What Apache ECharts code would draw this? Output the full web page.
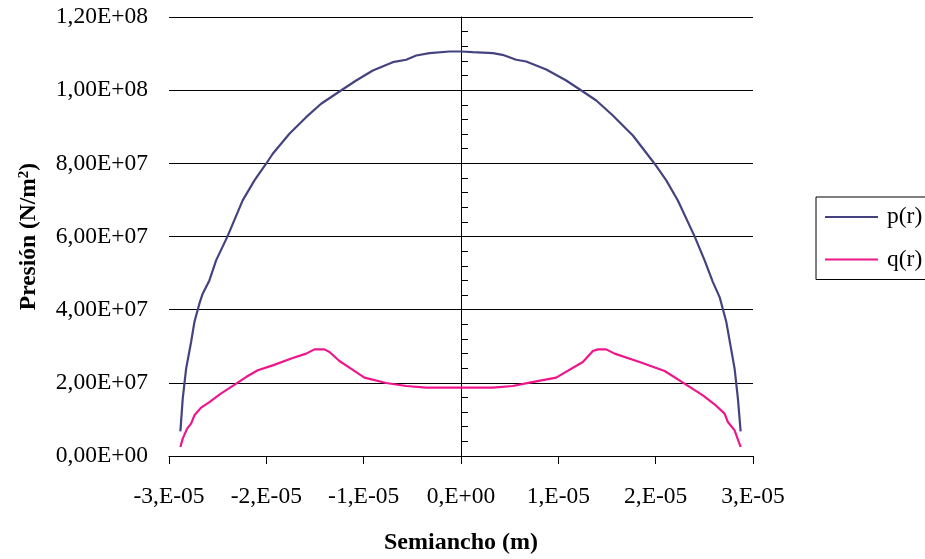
<!DOCTYPE html>
<html>
<head>
<meta charset="utf-8">
<script src="https://cdn.jsdelivr.net/npm/echarts@6/dist/echarts.min.js"></script>
<style>html,body{margin:0;padding:0;background:#fff}#c{width:925px;height:559px}</style>
</head>
<body>
<div id="c"></div>
<script>
// Semiancho r (m) and pressure p(r) (N/m2)
const pR = [-2.883e-5,-2.859e-5,-2.824e-5,-2.773e-5,-2.739e-5,-2.688e-5,-2.654e-5,-2.585e-5,-2.516e-5,-2.399e-5,-2.243e-5,-2.122e-5,-2.002e-5,-1.934e-5,-1.763e-5,-1.591e-5,-1.437e-5,-1.249e-5,-1.077e-5,-0.906e-5,-0.701e-5,-0.563e-5,-0.460e-5,-0.324e-5,-0.118e-5,0.002e-5,0.121e-5,0.327e-5,0.427e-5,0.567e-5,0.670e-5,0.876e-5,1.081e-5,1.252e-5,1.390e-5,1.560e-5,1.766e-5,1.989e-5,2.109e-5,2.228e-5,2.400e-5,2.503e-5,2.588e-5,2.657e-5,2.726e-5,2.811e-5,2.845e-5,2.873e-5];
const pVal = [0.675e7,1.568e7,2.388e7,3.115e7,3.661e7,4.164e7,4.437e7,4.800e7,5.347e7,6.003e7,6.986e7,7.533e7,7.989e7,8.262e7,8.809e7,9.262e7,9.628e7,9.964e7,10.265e7,10.538e7,10.765e7,10.831e7,10.948e7,11.011e7,11.057e7,11.057e7,11.038e7,11.011e7,10.967e7,10.831e7,10.784e7,10.566e7,10.265e7,9.964e7,9.718e7,9.309e7,8.762e7,7.989e7,7.533e7,6.986e7,6.003e7,5.347e7,4.754e7,4.344e7,3.661e7,2.388e7,1.568e7,0.675e7];
// q(r)
const qR = [-2.883e-5,-2.859e-5,-2.814e-5,-2.773e-5,-2.739e-5,-2.670e-5,-2.585e-5,-2.482e-5,-2.310e-5,-2.208e-5,-2.088e-5,-1.934e-5,-1.729e-5,-1.591e-5,-1.506e-5,-1.403e-5,-1.351e-5,-1.249e-5,-1.146e-5,-0.992e-5,-0.769e-5,-0.563e-5,-0.358e-5,0.327e-5,0.532e-5,0.704e-5,0.978e-5,1.252e-5,1.355e-5,1.406e-5,1.492e-5,1.578e-5,1.835e-5,2.092e-5,2.297e-5,2.485e-5,2.605e-5,2.708e-5,2.742e-5,2.811e-5,2.873e-5];
const qVal = [0.246e7,0.475e7,0.749e7,0.885e7,1.112e7,1.322e7,1.475e7,1.678e7,1.978e7,2.158e7,2.342e7,2.478e7,2.678e7,2.798e7,2.915e7,2.915e7,2.842e7,2.596e7,2.415e7,2.142e7,1.995e7,1.913e7,1.869e7,1.869e7,1.913e7,2.005e7,2.142e7,2.568e7,2.869e7,2.915e7,2.915e7,2.798e7,2.568e7,2.322e7,1.978e7,1.658e7,1.413e7,1.158e7,0.929e7,0.702e7,0.246e7];
const seriesNames = ['p(r)', 'q(r)'];
const xMin = -3e-5, xMax = 3e-5, xStep = 1e-5;
const yMin = 0, yMax = 1.2e8, yStep = 2e7;

const FONT = "'Liberation Serif','Times New Roman',serif";
const BLUE = '#45437f', PINK = '#ee168a';
function excelFmt(v, digits) {
  const s = Number(v).toExponential(digits);
  const m = s.split('e');
  let mant = m[0].replace('.', ',');
  if (digits === 0) mant += ',';
  const e = parseInt(m[1], 10);
  const sign = e < 0 ? '-' : '+';
  const ea = Math.abs(e);
  return mant + 'E' + sign + (ea < 10 ? '0' + ea : '' + ea);
}

const chart = echarts.init(document.getElementById('c'));
chart.setOption({
  animation: false,
  backgroundColor: '#fff',
  grid: { left: 169, right: 172, top: 17, bottom: 103, containLabel: false, outerBoundsMode: 'none' },
  legend: {
    orient: 'vertical',
    left: 816, top: 197,
    padding: [8, 30, 8, 9],
    itemGap: 18.5,
    itemWidth: 53,
    itemHeight: 2,
    icon: 'rect',
    borderColor: '#000', borderWidth: 1,
    textStyle: { fontFamily: FONT, fontSize: 23.5, color: '#000', padding: [0, 0, 0, 4] },
    data: seriesNames
  },
  xAxis: {
    type: 'value', min: xMin, max: xMax, interval: xStep,
    name: 'Semiancho (m)', nameLocation: 'middle', nameGap: 75,
    nameTextStyle: { fontFamily: FONT, fontSize: 24, fontWeight: 'bold', color: '#000' },
    axisLine: { onZero: false, lineStyle: { color: '#000', width: 1 } },
    axisTick: { show: true, length: 8, lineStyle: { color: '#000' } },
    axisLabel: { margin: 29, fontFamily: FONT, fontSize: 23.5, color: '#000', formatter: v => excelFmt(v, 0) },
    splitLine: { show: false }
  },
  yAxis: [{
    type: 'value', min: yMin, max: yMax, interval: yStep, position: 'left',
    name: 'Presión (N/m{sup|2})', nameLocation: 'middle', nameGap: 128, nameRotate: 90,
    nameTextStyle: { fontFamily: FONT, fontSize: 23.5, fontWeight: 'bold', color: '#000',
      rich: { sup: { fontFamily: FONT, fontSize: 15, fontWeight: 'bold', verticalAlign: 'top', color: '#000' } } },
    axisLine: { show: false, onZero: false },
    axisTick: { show: false },
    axisLabel: { margin: 21, fontFamily: FONT, fontSize: 23.5, color: '#000', formatter: v => excelFmt(v, 2) },
    splitLine: { show: true, lineStyle: { color: '#000', width: 1 } }
  }, {
    type: 'value', min: yMin, max: yMax, interval: yStep, position: 'left',
    axisLine: { show: true, onZero: true, onZeroAxisIndex: 0, lineStyle: { color: '#000', width: 1 } },
    axisTick: { show: true, inside: true, length: 7, lineStyle: { color: '#000' } },
    minorTick: { show: true, splitNumber: 5, length: 7, lineStyle: { color: '#000' } },
    axisLabel: { show: false },
    splitLine: { show: false }
  }],
  series: [{
    name: seriesNames[0], type: 'line', yAxisIndex: 0, symbol: 'none', smooth: false,
    lineStyle: { color: BLUE, width: 2.2 }, itemStyle: { color: BLUE },
    data: pR.map((r, i) => [r, pVal[i]])
  }, {
    name: seriesNames[1], type: 'line', yAxisIndex: 0, symbol: 'none', smooth: false,
    lineStyle: { color: PINK, width: 2.2 }, itemStyle: { color: PINK },
    data: qR.map((r, i) => [r, qVal[i]])
  }]
});
</script>
</body>
</html>
